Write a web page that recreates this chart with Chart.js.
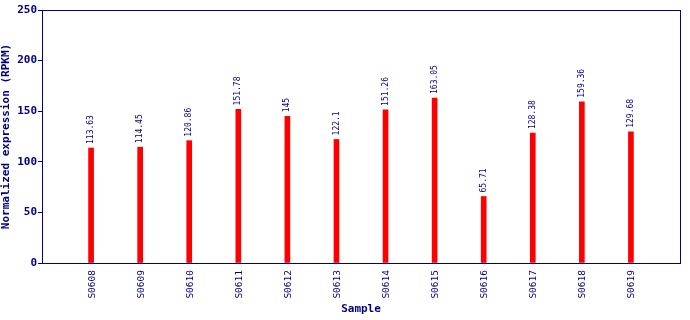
<!DOCTYPE html>
<html>
<head>
<meta charset="utf-8">
<script src="https://cdn.jsdelivr.net/npm/chart.js@4/dist/chart.umd.min.js"></script>
<style>
  html, body { margin: 0; padding: 0; background: #ffffff; }
  #wrap { width: 690px; height: 320px; }
</style>
</head>
<body>
<div id="wrap"><canvas id="exprChart"></canvas></div>
<script>
'use strict';

// chart data
const samples = ['S0608', 'S0609', 'S0610', 'S0611', 'S0612', 'S0613',
  'S0614', 'S0615', 'S0616', 'S0617', 'S0618', 'S0619']
const expression = [113.63, 114.45, 120.86, 151.78, 145, 122.1,
  151.26, 163.05, 65.71, 128.38, 159.36, 129.68]
const yTicks = [0, 50, 100, 150, 200, 250]

const navy = '#000080'
const mono = '"DejaVu Sans Mono", "Liberation Mono", monospace'

// pad the category axis with an empty slot on each side
const axisLabels = [''].concat(samples, [''])
const axisValues = [null].concat(expression, [null])

/**
 * Plugin that draws the frame round the plot area
 */
const frameBox = {
  id: 'frameBox',
  afterDraw: (chart) => {
    const { ctx, chartArea } = chart
    ctx.save()
    ctx.strokeStyle = navy
    ctx.lineWidth = 1
    ctx.strokeRect(Math.round(chartArea.left) + 0.5, Math.round(chartArea.top) + 0.5,
      Math.round(chartArea.right - chartArea.left), Math.round(chartArea.bottom - chartArea.top))
    ctx.restore()
  }
}

/**
 * Plugin that writes the sample names upright under the x axis
 */
const sampleLabels = {
  id: 'sampleLabels',
  afterDraw: (chart) => {
    const { ctx } = chart
    const xScale = chart.scales.x
    ctx.save()
    ctx.fillStyle = navy
    ctx.font = '9.5px ' + mono
    ctx.textAlign = 'right'
    ctx.textBaseline = 'middle'
    axisLabels.forEach((label, i) => {
      if (!label) return
      ctx.save()
      ctx.translate(xScale.getPixelForTick(i) + 1, xScale.top + 7)
      ctx.rotate(-Math.PI / 2)
      ctx.fillText(label, 0, 0)
      ctx.restore()
    })
    ctx.restore()
  }
}

/**
 * Plugin that writes each value above its bar, turned upright
 */
const valueLabels = {
  id: 'valueLabels',
  afterDatasetsDraw: (chart) => {
    const { ctx } = chart
    const meta = chart.getDatasetMeta(0)
    ctx.save()
    ctx.fillStyle = navy
    ctx.font = '8px ' + mono
    ctx.textAlign = 'left'
    ctx.textBaseline = 'middle'
    meta.data.forEach((bar, i) => {
      const v = axisValues[i]
      if (v === null) return
      ctx.save()
      ctx.translate(bar.x, bar.y - 4)
      ctx.rotate(-Math.PI / 2)
      ctx.fillText(String(v), 0, 0)
      ctx.restore()
    })
    ctx.restore()
  }
}

const config = {
  type: 'bar',
  data: {
    labels: axisLabels,
    datasets: [{
      data: axisValues,
      backgroundColor: '#ff0000',
      borderWidth: 0,
      barThickness: 5
    }]
  },
  options: {
    responsive: true,
    maintainAspectRatio: false,
    animation: false,
    layout: { padding: { top: 10, right: 10, left: 0, bottom: 0 } },
    plugins: {
      legend: { display: false },
      tooltip: { enabled: false }
    },
    scales: {
      x: {
        offset: false,
        grid: { display: false },
        border: { display: true, color: navy },
        ticks: { display: false },
        title: {
          display: true,
          text: 'Sample',
          color: navy,
          font: { family: mono, size: 11, weight: 'bold' },
          padding: { top: 0, bottom: 4 }
        },
        afterFit: (scale) => { scale.height = 57 }
      },
      y: {
        min: 0,
        max: 250,
        afterBuildTicks: (scale) => { scale.ticks = yTicks.map(v => ({ value: v })) },
        grid: { drawOnChartArea: false, color: navy, tickLength: 4 },
        border: { display: true, color: navy },
        ticks: {
          color: navy,
          font: { family: mono, size: 11, weight: 'bold' },
          padding: 1
        },
        title: {
          display: true,
          text: 'Normalized expression (RPKM)',
          color: navy,
          font: { family: mono, size: 11, weight: 'bold' },
          padding: { top: 0, bottom: 0 }
        },
        afterFit: (scale) => { scale.width = 42 }
      }
    }
  },
  plugins: [frameBox, sampleLabels, valueLabels]
}

new Chart(document.getElementById('exprChart'), config)
</script>
</body>
</html>
